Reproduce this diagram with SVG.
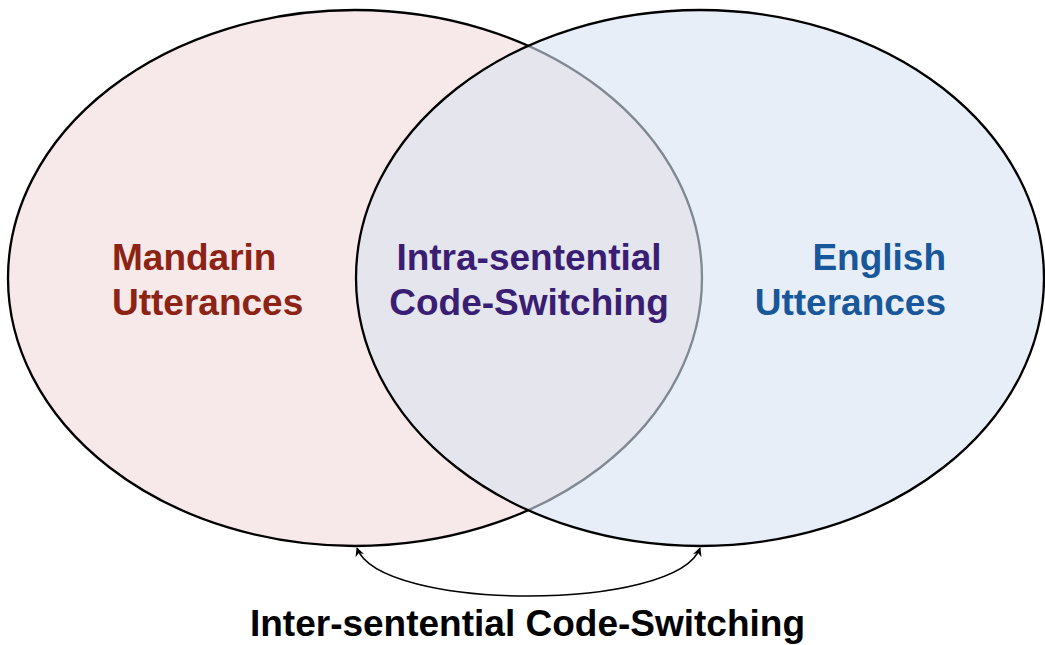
<svg xmlns="http://www.w3.org/2000/svg" width="1045" height="645" viewBox="0 0 1045 645">
<defs>
<style>
.lbl{font-family:"Liberation Sans",Arial,sans-serif;font-weight:bold;font-size:37px}
.outline{stroke:#000;stroke-width:2.3}
</style>
<marker id="ah" viewBox="0 0 10 10" refX="9" refY="5" markerWidth="10" markerHeight="9" orient="auto-start-reverse" markerUnits="userSpaceOnUse">
<path d="M0,0 L10,5 L0,10 L3,5 z" fill="#000"/>
</marker>
</defs>
<rect width="1045" height="645" fill="#fff"/>
<g id="mandarin">
<ellipse class="outline" cx="355" cy="278" rx="347" ry="268" fill="#F7E8E9"/>
<text class="lbl" x="112" y="270" fill="#8C2314">Mandarin</text>
<text class="lbl" x="112" y="315" fill="#8C2314">Utterances</text>
</g>
<g id="english">
<ellipse class="outline" cx="700" cy="278" rx="344" ry="268" fill="#D9E3F2" fill-opacity="0.6"/>
<text class="lbl" x="946" y="270" fill="#17579A" text-anchor="end">English</text>
<text class="lbl" x="946" y="315" fill="#17579A" text-anchor="end">Utterances</text>
</g>
<g id="intra">
<text class="lbl" x="529" y="270" fill="#3A1E74" text-anchor="middle">Intra-sentential</text>
<text class="lbl" x="529" y="315" fill="#3A1E74" text-anchor="middle">Code-Switching</text>
</g>
<g id="connectors">
<path d="M357,548 C380,612 677,612 700,548" fill="none" stroke="#000" stroke-width="1.6" marker-start="url(#ah)" marker-end="url(#ah)"/>
</g>
<g id="inter">
<text class="lbl" x="527.5" y="636" fill="#000" text-anchor="middle" font-size="34.5">Inter-sentential Code-Switching</text>
</g>
</svg>
